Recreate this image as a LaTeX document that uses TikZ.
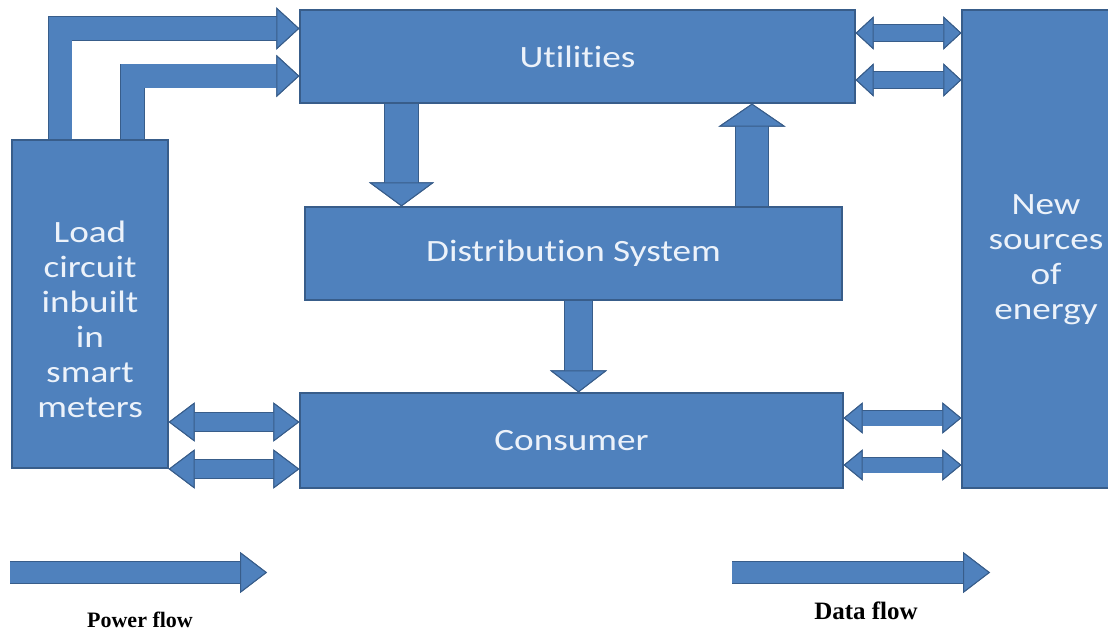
\documentclass[tikz,border=0pt]{standalone}
\usepackage{fontspec}
\usepackage{xcolor}
\usepackage{tikz}
\usetikzlibrary{arrows.meta, positioning}

\newfontfamily\boxfont[FakeStretch=1.2, Ligatures=NoCommon]{Carlito}
\newfontfamily\legfont{Liberation Serif}
\definecolor{boxblue}{RGB}{79,129,189}
\definecolor{edgeblue}{RGB}{56,93,138}
\definecolor{boxtext}{RGB}{236,242,250}

\tikzset{
  box/.style={rectangle, draw=edgeblue, fill=boxblue, line width=1.2pt, text=boxtext,
    inner sep=0pt, align=center, font=\boxfont\fontsize{31}{35}\selectfont},
  flow/.style={draw=boxblue, line width=#1, line join=miter,
    preaction={draw=edgeblue, line width=#1+1.6pt}},
  blk/.tip={Triangle[fill=boxblue, color=edgeblue, line width=1pt]},
  legend/.style={inner sep=0pt, text=black, font=\legfont\bfseries\fontsize{22}{26}\selectfont},
}

\begin{document}
\begin{tikzpicture}[x=1pt, y=-1pt]
  \path[use as bounding box, fill=white] (0,0) rectangle (1108,634);

  % Blocks
  \node[box, minimum width=555pt, minimum height=93pt] (util) at (577.5,56.5) {Utilit\kern0pt ies};
  \node[box, minimum width=537pt, minimum height=93pt] (dist) at (573.5,253.5) {Distribut\kern0pt ion System};
  \node[box, minimum width=543pt, minimum height=95pt] (cons) at (571.5,440.5) {Consumer};
  \node[box, minimum width=156pt, minimum height=328pt,
    label={[box, draw=none, fill=none, yshift=-15pt]center:Load\\circuit\\inbuilt\\in\\smart\\meters}] (lcm) at (90,304) {};
  \node[box, minimum width=168pt, minimum height=478pt,
    label={[box, draw=none, fill=none, yshift=-11pt]center:New\\sources\\of\\energy}] (nse) at (1046,249) {};

  % Meters to utilities
  \draw[flow=23pt, -{blk[length=23pt, width=42pt]}] ([xshift=-30pt]lcm.north) |- ([yshift=28pt]util.west);
  \draw[flow=23pt, -{blk[length=23pt, width=42pt]}] ([xshift=42.5pt]lcm.north) |- ([yshift=-19.5pt]util.west);

  % Utilities and distribution
  \draw[flow=33pt, -{blk[length=24pt, width=65pt]}] ([xshift=-176pt]util.south) -- ([xshift=-176pt]util.south |- dist.north);
  \draw[flow=32pt, -{blk[length=23pt, width=67pt]}] ([xshift=178.5pt]dist.north) -- ([xshift=178.5pt]dist.north |- util.south);
  \draw[flow=27pt, -{blk[length=22pt, width=57pt]}] ([xshift=5pt]dist.south) -- ([xshift=5pt]dist.south |- cons.north);

  % Two-way links
  \foreach \dy in {23.5,-23.5}
    \draw[flow=16pt, {blk[length=18pt, width=33pt]}-{blk[length=18pt, width=33pt]}]
      ([yshift=\dy pt]util.east) -- ([yshift=\dy pt]util.east -| nse.west);
  \foreach \dy in {18.5,-28.5}
    \draw[flow=18pt, {blk[length=26pt, width=39pt]}-{blk[length=26pt, width=39pt]}]
      ([yshift=\dy pt]cons.west -| lcm.east) -- ([yshift=\dy pt]cons.west);
  \foreach \dy in {22.5,-24.5}
    \draw[flow=15pt, {blk[length=19pt, width=31pt]}-{blk[length=19pt, width=31pt]}]
      ([yshift=\dy pt]cons.east) -- ([yshift=\dy pt]cons.east -| nse.west);

  % Legend
  \coordinate (pw0) at (10,572.5);
  \coordinate (pw1) at (267,572.5);
  \coordinate (dt0) at (732,572.5);
  \coordinate (dt1) at (990,572.5);
  \draw[flow=21pt, -{blk[length=27pt, width=41pt]}] (pw0) -- (pw1);
  \draw[flow=21pt, -{blk[length=27pt, width=41pt]}] (dt0) -- (dt1);
  \node[legend] (pwlab) at (140,620) {Power flow};
  \node[legend, font=\legfont\bfseries\fontsize{25}{30}\selectfont] (dtlab) at (866,611) {Data flow};
\end{tikzpicture}
\end{document}
